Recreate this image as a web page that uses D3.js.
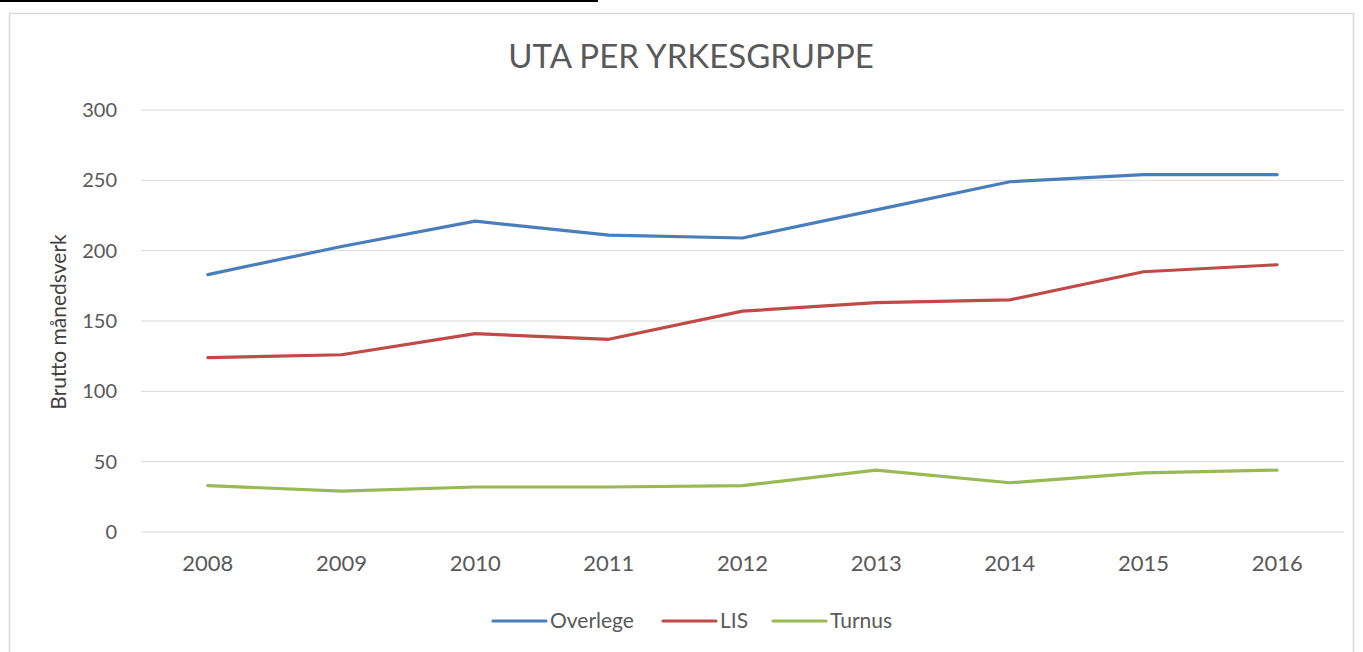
<!DOCTYPE html>
<html>
<head>
<meta charset="utf-8">
<script src="https://cdn.jsdelivr.net/npm/d3@7"></script>
<style>
  body { margin: 0; background: #fff; }
  svg { display: block; font-family: Lato, "Open Sans", sans-serif; }
</style>
</head>
<body>
<svg id="chart" width="1363" height="652"></svg>
<script>
// chart data
const years = ["2008", "2009", "2010", "2011", "2012", "2013", "2014", "2015", "2016"];
const overlege = [183, 203, 221, 211, 209, 229, 249, 254, 254];
const lis = [124, 126, 141, 137, 157, 163, 165, 185, 190];
const turnus = [33, 29, 32, 32, 33, 44, 35, 42, 44];
const yTicks = [0, 50, 100, 150, 200, 250, 300];

const series = [
    { name: "Overlege", values: overlege, color: "#4a7ebb" },
    { name: "LIS", values: lis, color: "#be4b48" },
    { name: "Turnus", values: turnus, color: "#98b954" }
];

const svg = d3.select("#chart");

// black rule at the top and the chart frame
svg.append("line")
    .attr("x1", 0).attr("x2", 598).attr("y1", 1).attr("y2", 1)
    .style("stroke", "#000").style("stroke-width", 2);
svg.append("rect")
    .attr("x", 9.5).attr("y", 13.5).attr("width", 1344).attr("height", 660)
    .style("fill", "none").style("stroke", "#d9d9d9").style("stroke-width", 1.5);

const margin = { left: 141, right: 1344, top: 110, bottom: 532 };

const x = d3.scaleBand().domain(years).range([margin.left, margin.right]);
const y = d3.scaleLinear().domain([0, 300]).range([margin.bottom, margin.top]);

// gridlines
svg.append("g")
    .selectAll("line")
    .data(yTicks)
    .enter()
    .append("line")
    .attr("x1", margin.left).attr("x2", margin.right)
    .attr("y1", d => y(d)).attr("y2", d => y(d))
    .style("stroke", "#d9d9d9").style("stroke-width", 1);

// y axis labels
const yAxis = svg.append("g")
    .attr("transform", `translate(${margin.left}, 0)`)
    .call(d3.axisLeft(y).tickValues(yTicks).tickSize(0).tickPadding(24));
yAxis.select(".domain").remove();
yAxis.selectAll("text")
    .style("font-family", "Lato, sans-serif")
    .style("font-size", "20px")
    .style("fill", "#595959");

// x axis labels
const xAxis = svg.append("g")
    .attr("transform", `translate(0, ${margin.bottom})`)
    .call(d3.axisBottom(x).tickSize(0).tickPadding(23));
xAxis.select(".domain").remove();
xAxis.selectAll("text")
    .style("font-family", "Lato, sans-serif")
    .style("font-size", "22px")
    .style("fill", "#595959");

// title
svg.append("text")
    .attr("x", 691).attr("y", 68)
    .attr("text-anchor", "middle")
    .style("font-size", "33px")
    .style("fill", "#595959")
    .text("UTA PER YRKESGRUPPE");

// y axis title
svg.append("text")
    .attr("transform", "translate(66, 322) rotate(-90)")
    .attr("text-anchor", "middle")
    .style("font-size", "21px")
    .style("fill", "#404040")
    .text("Brutto månedsverk");

// lines
const line = d3.line()
    .x((d, i) => x(years[i]) + x.bandwidth() / 2)
    .y(d => y(d));

series.forEach(s => {
    svg.append("path")
        .datum(s.values)
        .attr("d", line)
        .style("fill", "none")
        .style("stroke", s.color)
        .style("stroke-width", 3.2)
        .style("stroke-linecap", "round")
        .style("stroke-linejoin", "round");
});

// legend
const legendX = [493, 663, 773];
const legend = svg.append("g");
series.forEach((s, i) => {
    const g = legend.append("g").attr("transform", `translate(${legendX[i]}, 621)`);
    g.append("line")
        .attr("x1", 0).attr("x2", 53).attr("y1", 0).attr("y2", 0)
        .style("stroke", s.color).style("stroke-width", 3.2)
        .style("stroke-linecap", "round");
    g.append("text")
        .attr("x", 57).attr("y", 7)
        .style("font-size", "21px")
        .style("fill", "#595959")
        .text(s.name);
});
</script>
</body>
</html>
